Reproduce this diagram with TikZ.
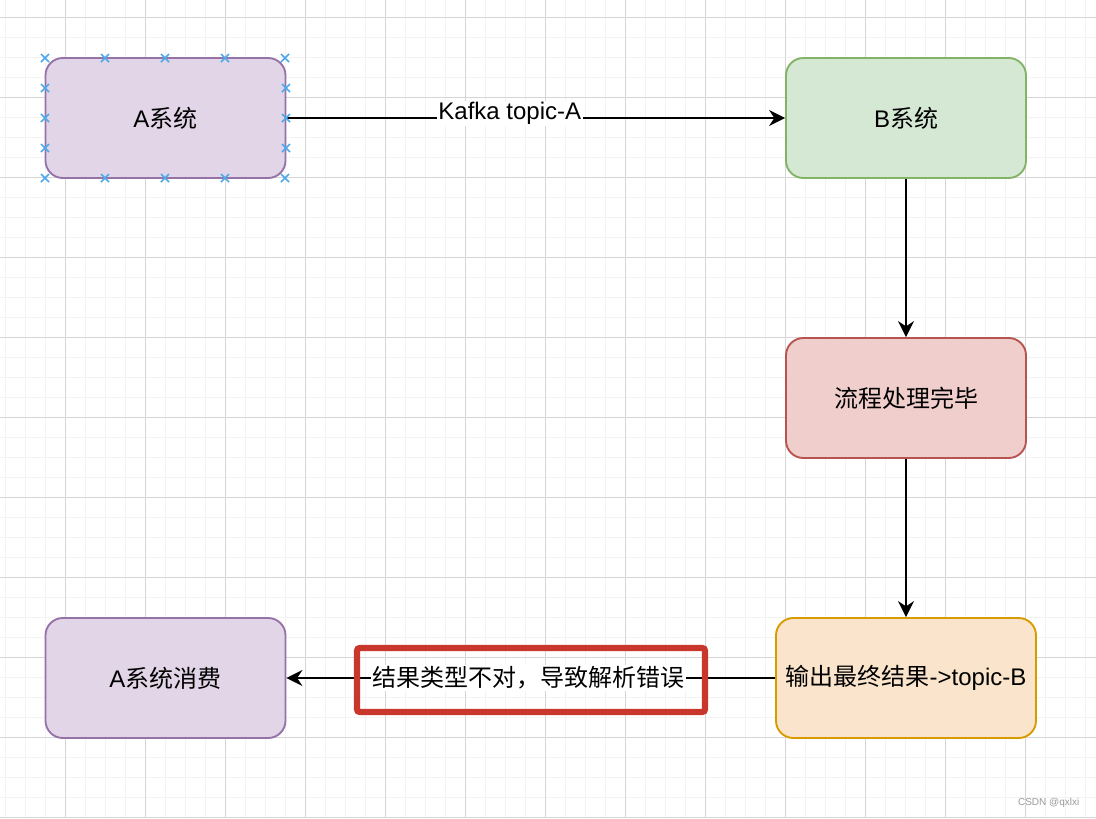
\documentclass[tikz,border=0pt]{standalone}
\usepackage{fontspec}
\setmainfont{Liberation Sans}
\newfontfamily\cjk{Noto Sans CJK SC}
\usetikzlibrary{arrows.meta}
\definecolor{purpfill}{HTML}{E1D5E7}
\definecolor{purpline}{HTML}{9673A6}
\definecolor{greenfill}{HTML}{D5E8D4}
\definecolor{greenline}{HTML}{82B366}
\definecolor{redfill}{HTML}{F0CECC}
\definecolor{redline}{HTML}{B85450}
\definecolor{orangefill}{HTML}{FAE5CC}
\definecolor{orangeline}{HTML}{D79B00}
\definecolor{markred}{HTML}{C9372C}
\definecolor{xblue}{HTML}{4FA8EA}
\definecolor{minorgrid}{HTML}{F3F3F3}
\definecolor{majorgrid}{HTML}{D6D6D6}
\tikzset{
  minorline/.style={draw=minorgrid, line width=0.75pt},
  majorline/.style={draw=majorgrid, line width=0.75pt},
  box/.style={rectangle, rounded corners=13pt, line width=1.4pt, minimum width=180pt, minimum height=90pt, font=\fontsize{18}{21}\selectfont, inner sep=0pt},
  arr/.style={-{Stealth[length=12pt,width=12pt,inset=4pt]}, line width=1.5pt, black},
  lbl/.style={fill=white, inner sep=1pt, font=\fontsize{18}{21}\selectfont},
  xmark/.style={draw=xblue, line width=1.1pt},
  markbox/.style={draw=markred, line width=4.6pt, rounded corners=2pt, minimum width=261pt, minimum height=48pt, inner sep=0pt}
}
\begin{document}
\begin{tikzpicture}[x=0.75pt,y=-0.75pt]
\useasboundingbox (0,0) rectangle (1096,818);
\fill[white] (0,0) rectangle (1096,818);
\foreach \x in {5,25,...,1095} \draw[minorline] (\x,0) -- (\x,818);
\foreach \y in {17,37,...,817} \draw[minorline] (0,\y) -- (1096,\y);
\foreach \x in {65,145,...,1065} \draw[majorline] (\x,0) -- (\x,818);
\foreach \y in {17,97,...,817} \draw[majorline] (0,\y) -- (1096,\y);

\node[box, fill=purpfill, draw=purpline] (a) at (165.5,118) {A{\cjk 系统}};
\node[box, fill=greenfill, draw=greenline] (b) at (906,118) {B{\cjk 系统}};
\node[box, fill=redfill, draw=redline] (p) at (906,398) {{\cjk 流程处理完毕}};
\node[box, fill=orangefill, draw=orangeline, minimum width=195pt] (o) at (906,678) {{\cjk 输出最终结果}->topic-B};
\node[box, fill=purpfill, draw=purpline] (c) at (165.5,678) {A{\cjk 系统消费}};

\draw[arr] (a) -- node[lbl, pos=0.448, yshift=3.5pt] (l1) {Kafka topic-A} (b);
\draw[arr] (b) -- (p);
\draw[arr] (p) -- (o);
\draw[arr] (o) -- node[lbl, pos=0.505] (l2) {{\cjk 结果类型不对，导致解析错误}} (c);
\node[markbox] (m) at (531,680) {};

\foreach \x in {45,105,165,225,285}{
  \foreach \y in {58,178}{
    \draw[xmark] ({\x-4},{\y-4}) -- ({\x+4},{\y+4});
    \draw[xmark] ({\x-4},{\y+4}) -- ({\x+4},{\y-4});
  }
}
\foreach \x in {45,286}{
  \foreach \y in {88,118,148}{
    \draw[xmark] ({\x-4},{\y-4}) -- ({\x+4},{\y+4});
    \draw[xmark] ({\x-4},{\y+4}) -- ({\x+4},{\y-4});
  }
}
\node[text=gray!80, font=\fontsize{7.5}{9}\selectfont, anchor=east] (wm) at (1084,803) {CSDN @qxlxi};
\end{tikzpicture}
\end{document}
